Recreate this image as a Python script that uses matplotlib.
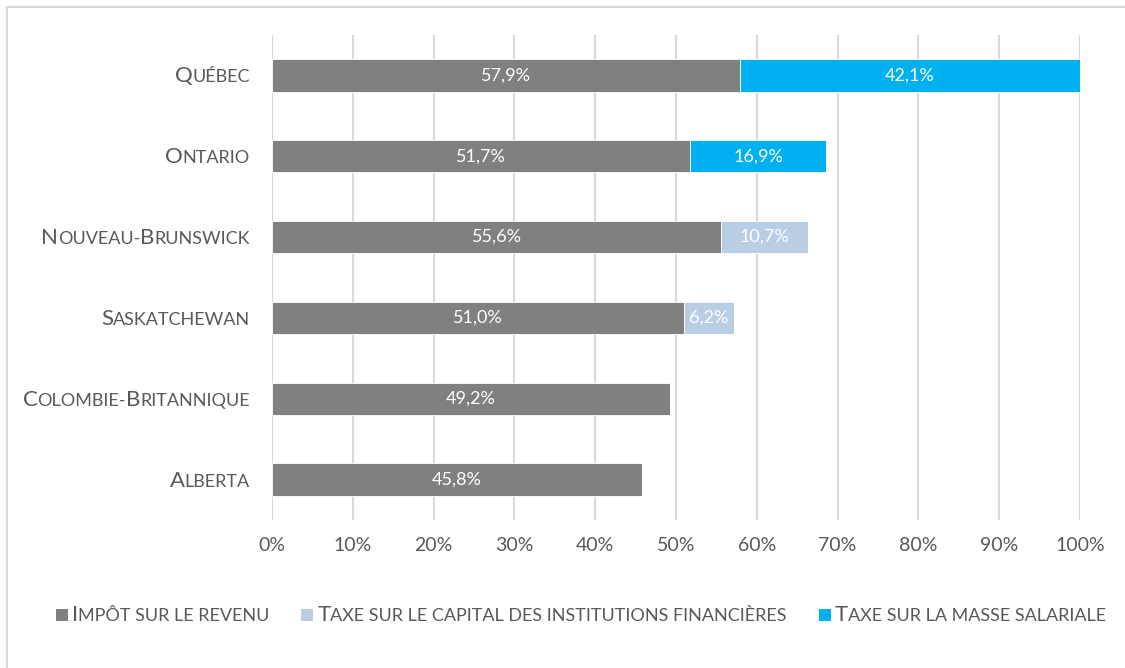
import matplotlib
matplotlib.use("Agg")
import matplotlib.pyplot as plt
import matplotlib.patches as patches
from matplotlib.transforms import offset_copy

# data
provinces = ["Québec", "Ontario", "Nouveau-Brunswick", "Saskatchewan",
             "Colombie-Britannique", "Alberta"]
impot = [57.9, 51.7, 55.6, 51.0, 49.2, 45.8]
capital = [0, 0, 10.7, 6.2, 0, 0]
masse = [42.1, 16.9, 0, 0, 0, 0]
series_names = ["Impôt sur le revenu",
                "Taxe sur le capital des institutions financières",
                "Taxe sur la masse salariale"]
xticks = [0, 10, 20, 30, 40, 50, 60, 70, 80, 90, 100]

col_impot = "#808080"
col_cap = "#B9CDE5"
col_masse = "#00B0F0"
txt_col = "#595959"
FONT = "Lato"
W, H = 1125, 668

plt.rcParams["font.family"] = [FONT, "DejaVu Sans"]

fig = plt.figure(figsize=(W / 100, H / 100), dpi=100)
ax = fig.add_axes([272 / W, 1 - 520 / H, 808 / W, 485 / H])
renderer = fig.canvas.get_renderer()


def split_runs(s):
    # uppercase letters big, everything else small (uppercased)
    runs = []
    for ch in s:
        big = ch.isupper()
        if runs and runs[-1][1] == big:
            runs[-1][0] += ch.upper()
        else:
            runs.append([ch.upper(), big])
    return runs


def smallcaps(x, y, s, trans, ha="left", big=16, small=13, color=txt_col, dy=0, dx0=0):
    runs = split_runs(s)
    texts = []
    widths = []
    for r, b in runs:
        t = fig.text(x, y, r, fontsize=big if b else small, color=color,
                     transform=trans, ha="left", va="baseline")
        texts.append(t)
        widths.append(t.get_window_extent(renderer).width)
    total = sum(widths)
    dx = (-total if ha == "right" else 0) + dx0
    for t, w in zip(texts, widths):
        t.set_transform(offset_copy(trans, fig=fig, x=dx, y=dy, units="dots"))
        dx += w
    return texts, total


y = list(range(len(provinces)))
ax.barh(y, impot, height=0.4, color=col_impot, edgecolor="white", linewidth=0.6, zorder=3)
ax.barh(y, capital, left=impot, height=0.4, color=col_cap, edgecolor="white", linewidth=0.6, zorder=3)
left3 = [a + b for a, b in zip(impot, capital)]
ax.barh(y, masse, left=left3, height=0.4, color=col_masse, edgecolor="white", linewidth=0.6, zorder=3)

for i in y:
    segs = [(0, impot[i]), (impot[i], capital[i]), (left3[i], masse[i])]
    for start, v in segs:
        if v > 0:
            ax.text(start + v / 2, i, f"{v:.1f}%".replace(".", ","),
                    ha="center", va="center", color="white", fontsize=13,
                    zorder=4)

ax.set_xlim(0, 100)
ax.set_ylim(len(provinces) - 0.5, -0.5)
ax.set_xticks(xticks)
ax.set_xticklabels([f"{v}%" for v in xticks], fontsize=14, color=txt_col)
ax.set_yticks([])
ax.tick_params(axis="x", length=0, pad=12)
ax.grid(axis="x", color="#D9D9D9", linewidth=1.5, zorder=0)
for sp in ax.spines.values():
    sp.set_visible(False)

ytrans = ax.get_yaxis_transform()
for i, name in enumerate(provinces):
    smallcaps(0, i, name, ytrans, ha="right", dy=-7, dx0=-22)

# legend, built by hand
legend_cols = [col_impot, col_cap, col_masse]
sq = 12
gap_sq = 4
gap_item = 32
ltrans = fig.transFigure
widths = []
for name in series_names:
    ts, w = smallcaps(0, 0, name, ltrans)
    for t in ts:
        t.remove()
    widths.append(w)
total = sum(widths) + len(widths) * (sq + gap_sq) + gap_item * (len(widths) - 1)
x0 = 581 - total / 2
ly = 615
for name, c, w in zip(series_names, legend_cols, widths):
    fig.add_artist(patches.Rectangle((x0 / W, 1 - (ly + sq / 2) / H), sq / W, sq / H,
                                     transform=fig.transFigure, color=c, lw=0))
    x0 += sq + gap_sq
    smallcaps(x0 / W, 1 - (ly + 6) / H, name, ltrans)
    x0 += w + gap_item

# outer frame
fig.add_artist(patches.Rectangle((7 / W, -0.1), 1.2, 1.1 - 7 / H,
                                 transform=fig.transFigure, fill=False,
                                 edgecolor="#D9D9D9", lw=1.5))

fig.savefig("out.png", dpi=100)
